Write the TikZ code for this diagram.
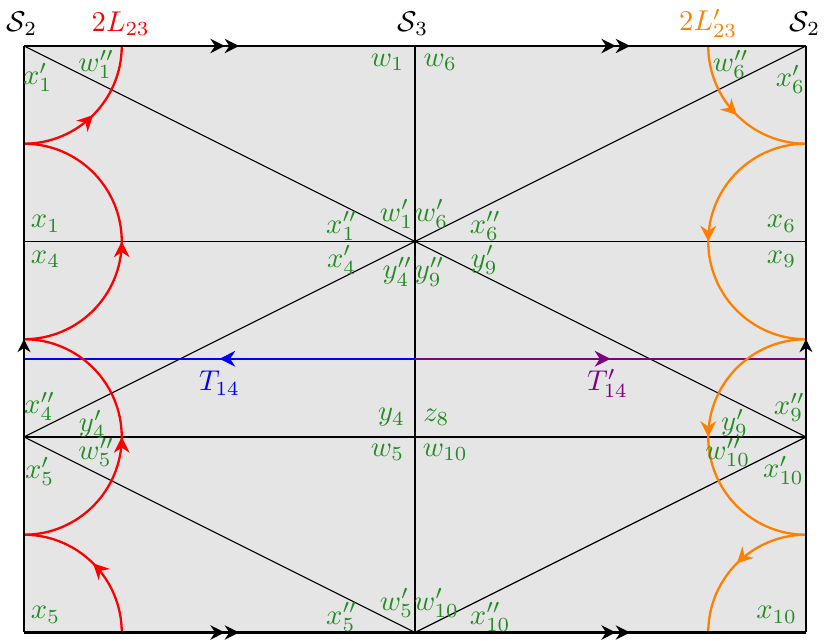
\documentclass[tikz,border=0pt]{standalone}
\usetikzlibrary{arrows.meta,decorations.markings}
\definecolor{lblgreen}{RGB}{34,139,34}
\begin{document}
\begin{tikzpicture}[x=1.2cm,y=1.2cm,
  lab/.style={text=lblgreen, inner sep=0pt},
  toplab/.style={inner sep=0pt},
  midarrow/.style={postaction={decorate},decoration={markings,mark=at position 0.5 with {\arrow{Stealth[length=5.5pt,width=5.5pt]}}}},
  edgearrow/.style={postaction={decorate},decoration={markings,mark=at position 0.5 with {\arrow{Stealth[length=4.5pt,width=4.5pt]}}}},
  dblarrow/.style={postaction={decorate},decoration={markings,mark=at position 0.55 with {\arrow{Stealth[length=5pt,width=5pt] Stealth[length=5pt,width=5pt]}}}},
  curve/.style={thick}
]
\useasboundingbox (-0.2455,-0.0818) rectangle (8.2455,6.4705);
% coordinates
\coordinate (BL) at (0,0); \coordinate (BM) at (4,0); \coordinate (BR) at (8,0);
\coordinate (TL) at (0,6); \coordinate (TM) at (4,6); \coordinate (TR) at (8,6);
\coordinate (L2) at (0,2); \coordinate (L4) at (0,4);
\coordinate (R2) at (8,2); \coordinate (R4) at (8,4);
\coordinate (C4) at (4,4);
\coordinate (L28) at (0,2.8); \coordinate (M28) at (4,2.8); \coordinate (R28) at (8,2.8);
\coordinate (L1) at (0,1); \coordinate (L3) at (0,3); \coordinate (L5) at (0,5);
\coordinate (R1) at (8,1); \coordinate (R3) at (8,3); \coordinate (R5) at (8,5);
\coordinate (B1) at (1,0); \coordinate (T7) at (7,6);
% fill
\fill[gray!20] (BL) rectangle (TR);
% diagonals
\draw (TL) -- (C4) -- (R2);
\draw (TR) -- (C4) -- (L2);
\draw (L2) -- (BM) -- (R2);
% horizontals
\draw[semithick] (L4) -- (R4);
\draw[semithick] (L2) -- (R2);
% middle vertical
\draw[thick] (BM) -- (TM);
% T lines
\draw[thick,blue,midarrow] (M28) -- (L28);
\draw[thick,violet,midarrow] (M28) -- (R28);
% red arcs
\draw[curve,red,midarrow] (L5) arc[start angle=-90,end angle=0,radius=1];
\draw[curve,red,midarrow] (L3) arc[start angle=-90,end angle=90,radius=1];
\draw[curve,red,midarrow] (L1) arc[start angle=-90,end angle=90,radius=1];
\draw[curve,red,midarrow] (B1) arc[start angle=0,end angle=90,radius=1];
% orange arcs
\draw[curve,orange,midarrow] (T7) arc[start angle=180,end angle=270,radius=1];
\draw[curve,orange,midarrow] (R5) arc[start angle=90,end angle=270,radius=1];
\draw[curve,orange,midarrow] (R3) arc[start angle=90,end angle=270,radius=1];
\draw[curve,orange,midarrow] (R1) arc[start angle=90,end angle=180,radius=1];
% border
\draw[thick,dblarrow] (BL) -- (BM);
\draw[thick,dblarrow] (BM) -- (BR);
\draw[thick,dblarrow] (TL) -- (TM);
\draw[thick,dblarrow] (TM) -- (TR);
\draw[thick,edgearrow] (BL) -- (TL);
\draw[thick,edgearrow] (BR) -- (TR);
% top labels
\node[toplab] (s2l) at (-0.02,6.23) {$\mathcal{S}_2$};
\node[toplab,text=red] (l23) at (0.99,6.23) {$2L_{23}$};
\node[toplab] (s3) at (3.98,6.23) {$\mathcal{S}_3$};
\node[toplab,text=orange] (l23p) at (7.0,6.23) {$2L'_{23}$};
\node[toplab] (s2r) at (7.99,6.23) {$\mathcal{S}_2$};
% T labels
\node[text=blue,inner sep=0pt] (t14) at (2.0,2.55) {$T_{14}$};
\node[text=violet,inner sep=0pt] (t14p) at (5.97,2.55) {$T'_{14}$};
% green labels
\node[lab] (a1) at (0.14,5.68) {$x'_1$};
\node[lab] (a2) at (0.74,5.81) {$w''_1$};
\node[lab] (a3) at (3.72,5.83) {$w_1$};
\node[lab] (a4) at (4.26,5.83) {$w_6$};
\node[lab] (a5) at (7.23,5.81) {$w''_6$};
\node[lab] (a6) at (7.84,5.66) {$x'_6$};
\node[lab] (a7) at (3.81,4.28) {$w'_1$};
\node[lab] (a8) at (4.17,4.28) {$w'_6$};
\node[lab] (a9) at (3.25,4.16) {$x''_1$};
\node[lab] (a10) at (4.72,4.16) {$x''_6$};
\node[lab] (a11) at (3.25,3.81) {$x'_4$};
\node[lab] (a12) at (4.71,3.81) {$y'_9$};
\node[lab] (a13) at (3.82,3.69) {$y''_4$};
\node[lab] (a14) at (4.15,3.69) {$y''_9$};
\node[lab] (a15) at (0.22,4.18) {$x_1$};
\node[lab] (a16) at (0.22,3.82) {$x_4$};
\node[lab] (a17) at (7.75,4.18) {$x_6$};
\node[lab] (a18) at (7.75,3.82) {$x_9$};
\node[lab] (a19) at (0.16,2.31) {$x''_4$};
\node[lab] (a20) at (0.70,2.13) {$y'_4$};
\node[lab] (a21) at (0.74,1.84) {$w''_5$};
\node[lab] (a22) at (0.16,1.65) {$x'_5$};
\node[lab] (a23) at (7.83,2.30) {$x''_9$};
\node[lab] (a24) at (7.27,2.14) {$y'_9$};
\node[lab] (a25) at (7.20,1.84) {$w''_{10}$};
\node[lab] (a26) at (7.77,1.66) {$x'_{10}$};
\node[lab] (a27) at (3.76,2.20) {$y_4$};
\node[lab] (a28) at (4.22,2.20) {$z_8$};
\node[lab] (a29) at (3.72,1.84) {$w_5$};
\node[lab] (a30) at (4.31,1.84) {$w_{10}$};
\node[lab] (a31) at (0.22,0.18) {$x_5$};
\node[lab] (a32) at (7.70,0.18) {$x_{10}$};
\node[lab] (a33) at (3.25,0.16) {$x''_5$};
\node[lab] (a34) at (3.81,0.30) {$w'_5$};
\node[lab] (a35) at (4.22,0.30) {$w'_{10}$};
\node[lab] (a36) at (4.77,0.16) {$x''_{10}$};
\end{tikzpicture}
\end{document}
